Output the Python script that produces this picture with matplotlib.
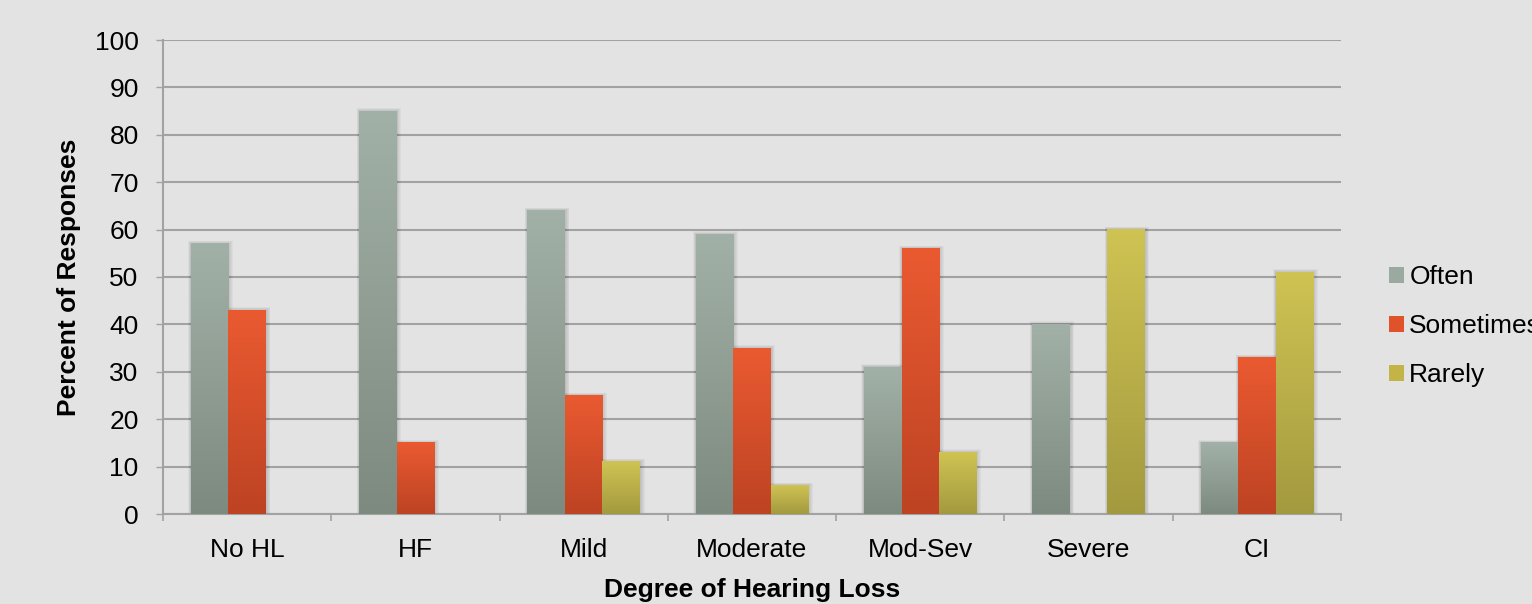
import numpy as np
import matplotlib
matplotlib.use("Agg")
import matplotlib.pyplot as plt
from matplotlib.colors import LinearSegmentedColormap
from matplotlib.patches import Rectangle

categories = ["No HL", "HF", "Mild", "Moderate", "Mod-Sev", "Severe", "CI"]
often = [57, 85, 64, 59, 31, 40, 15]
sometimes = [43, 15, 25, 35, 56, 0, 33]
rarely = [0, 0, 11, 6, 13, 60, 51]
series_names = ["Often", "Sometimes", "Rarely"]
yticks = [0, 10, 20, 30, 40, 50, 60, 70, 80, 90, 100]

grad_colors = [("#a2b1a7", "#7d8a80"), ("#ea5a31", "#bd4323"), ("#cfc353", "#a39a3f")]
legend_colors = ["#9aaaa0", "#e0522c", "#c2b447"]

plt.rcParams['font.family'] = ['Liberation Sans', 'DejaVu Sans']
BG = "#e3e3e3"
GRID = "#a2a2a2"

fig = plt.figure(figsize=(15.32, 6.04), dpi=100, facecolor=BG)
ax = fig.add_axes([163/1532, 90/604, 1178/1532, 474/604])
ax.set_facecolor(BG)

x = np.arange(len(categories))
width = 0.223
offsets = [-width, 0, width]
px_x = 1/168.3
px_y = 1/4.74

for vals, off, (ctop, cbot), name in zip([often, sometimes, rarely], offsets, grad_colors, series_names):
    bars = ax.bar(x + off, vals, width, color='none', edgecolor='none', zorder=3, label=name)
    cmap = LinearSegmentedColormap.from_list(name, [cbot, ctop])
    for rect in bars:
        x0, y0, w, h = rect.get_x(), rect.get_y(), rect.get_width(), rect.get_height()
        if h <= 0:
            continue
        # soft shadow
        for k in range(1, 6):
            ax.add_patch(Rectangle((x0 - k*0.5*px_x, y0), w + k*1.4*px_x, h + k*0.6*px_y,
                                   facecolor='black', alpha=0.03, edgecolor='none', zorder=2.5))
        grad = np.linspace(0, 1, 256).reshape(-1, 1)
        ax.imshow(grad, extent=[x0, x0 + w, y0, y0 + h], origin='lower', aspect='auto',
                  cmap=cmap, zorder=3, interpolation='bilinear')

ax.set_xlim(-0.5, len(categories) - 0.5)
ax.set_ylim(0, 100)

ax.set_yticks(yticks)
ax.set_yticklabels([str(v) for v in yticks], fontsize=19)
ax.yaxis.grid(True, color=GRID, linewidth=1.5, zorder=0)
ax.set_axisbelow(True)
ax.tick_params(axis='y', direction='out', length=5, width=1, color=GRID, pad=12.5)

ax.set_xticks(np.arange(-0.5, len(categories), 1.0))
ax.set_xticklabels([])
ax.set_xticks(x, minor=True)
ax.set_xticklabels(categories, minor=True, fontsize=19)
ax.tick_params(axis='x', which='major', direction='out', length=5, width=1.2, color=GRID)
ax.tick_params(axis='x', which='minor', length=0, pad=17)

for s in ['top', 'right']:
    ax.spines[s].set_visible(False)
for s in ['left', 'bottom']:
    ax.spines[s].set_color(GRID)
    ax.spines[s].set_linewidth(1.5)

ax.set_ylabel("Percent of Responses", fontsize=19, fontweight='bold', labelpad=10)
ax.set_xlabel("Degree of Hearing Loss", fontsize=19, fontweight='bold', labelpad=12)

handles = [Rectangle((0, 0), 1, 1, facecolor=c, edgecolor='none') for c in legend_colors]
leg = fig.legend(handles, series_names, loc='center left', bbox_to_anchor=(1389/1532, 1 - 326/604),
                 frameon=False, fontsize=19, handlelength=0.55, handleheight=0.55,
                 handletextpad=0.22, labelspacing=0.95, borderaxespad=0, borderpad=0)

fig.savefig("out.png", dpi=100, facecolor=BG)
